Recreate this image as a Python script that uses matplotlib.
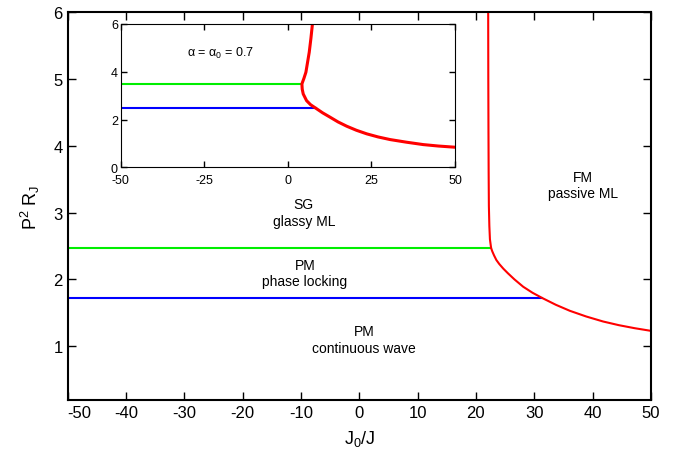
import matplotlib
matplotlib.use("Agg")
import matplotlib.pyplot as plt

plt.rcParams['font.family'] = ['Liberation Sans', 'DejaVu Sans']
plt.rcParams['mathtext.fontset'] = 'custom'
plt.rcParams['mathtext.rm'] = 'Liberation Sans'
plt.rcParams['mathtext.it'] = 'Liberation Sans'
plt.rcParams['axes.unicode_minus'] = False

# main panel data
green_x = [-50, 22.6]
green_y = [2.47, 2.47]
blue_x = [-50, 31.4]
blue_y = [1.72, 1.72]
red_x = [22.1, 22.12, 22.15, 22.18, 22.22, 22.3, 22.4, 22.6, 22.8, 23.1, 23.5, 24.0, 24.7, 25.5, 26.6, 28.1,
         29.7, 31.4, 33.7, 36.1, 38.9, 41.8, 44.5, 47.2, 50.0]
red_y = [6.0, 5.0, 4.2, 3.6, 3.1, 2.8, 2.6, 2.47, 2.42, 2.36, 2.29, 2.23, 2.16, 2.09, 2.00, 1.89,
         1.80, 1.72, 1.62, 1.53, 1.445, 1.37, 1.315, 1.27, 1.23]

# inset data
in_green_x = [-50, 4.2]
in_green_y = [3.47, 3.47]
in_blue_x = [-50, 8.4]
in_blue_y = [2.47, 2.47]
in_red_x = [7.3, 6.9, 6.4, 5.9, 5.4, 4.8, 4.2, 4.3, 4.6, 5.6, 6.8, 8.4, 10.4, 12.6, 15.0, 17.6, 20.5, 23.6,
            27.0, 30.6, 35.5, 40.5, 45.0, 50.0]
in_red_y = [5.93, 5.4, 4.82, 4.4, 3.98, 3.72, 3.49, 3.27, 3.07, 2.79, 2.62, 2.47, 2.28, 2.10, 1.90, 1.72,
            1.55, 1.40, 1.27, 1.16, 1.05, 0.95, 0.89, 0.84]

xticks = [-50, -40, -30, -20, -10, 0, 10, 20, 30, 40, 50]
yticks = [1, 2, 3, 4, 5, 6]

fig = plt.figure(figsize=(6.83, 4.52), dpi=100)
ax = fig.add_axes([0.0991, 0.1135, 0.8539, 0.8577])

ax.plot(green_x, green_y, color='#00ee00', linewidth=1.5)
ax.plot(blue_x, blue_y, color='#0000ff', linewidth=1.5)
ax.plot(red_x, red_y, color='#ff0000', linewidth=1.5)

ax.set_xlim(-50, 50)
ax.set_ylim(0.2, 6)
ax.set_xticks(xticks)
ax.set_xticklabels([str(t) for t in xticks])
ax.get_xticklabels()[0].set_horizontalalignment('left')
ax.set_yticks(yticks)
ax.tick_params(direction='in', top=True, right=True, labelsize=12, length=6, width=1)
for s in ax.spines.values():
    s.set_linewidth(1.5)

ax.set_xlabel('J$_0$/J', fontsize=13, labelpad=6)
ax.set_ylabel('P$^2$ R$_J$', fontsize=13, labelpad=8)

ax.text(-9.5, 3.0, 'SG\nglassy ML', ha='center', va='center', fontsize=10, linespacing=1.2)
ax.text(-9.3, 2.1, 'PM\nphase locking', ha='center', va='center', fontsize=10, linespacing=1.2)
ax.text(0.8, 1.1, 'PM\ncontinuous wave', ha='center', va='center', fontsize=10, linespacing=1.2)
ax.text(38.3, 3.41, 'FM\npassive ML', ha='center', va='center', fontsize=10, linespacing=1.2)

# inset
ins = fig.add_axes([0.1767, 0.6277, 0.4895, 0.317])
ins.plot(in_green_x, in_green_y, color='#00ee00', linewidth=1.5)
ins.plot(in_blue_x, in_blue_y, color='#0000ff', linewidth=1.5)
ins.plot(in_red_x, in_red_y, color='#ff0000', linewidth=2.2)
ins.set_xlim(-50, 50)
ins.set_ylim(0, 6)
ins.set_xticks([-50, -25, 0, 25, 50])
ins.set_yticks([0, 2, 4, 6])
ins.tick_params(direction='in', top=True, right=True, labelsize=9, length=4, width=1)
ins.tick_params(axis='x', pad=5)
ins.tick_params(axis='y', pad=2)
ins.text(-30.3, 4.82, r'$\alpha$ = $\alpha_0$ = 0.7', ha='left', va='center', fontsize=9)

fig.savefig('out.png', dpi=100)
